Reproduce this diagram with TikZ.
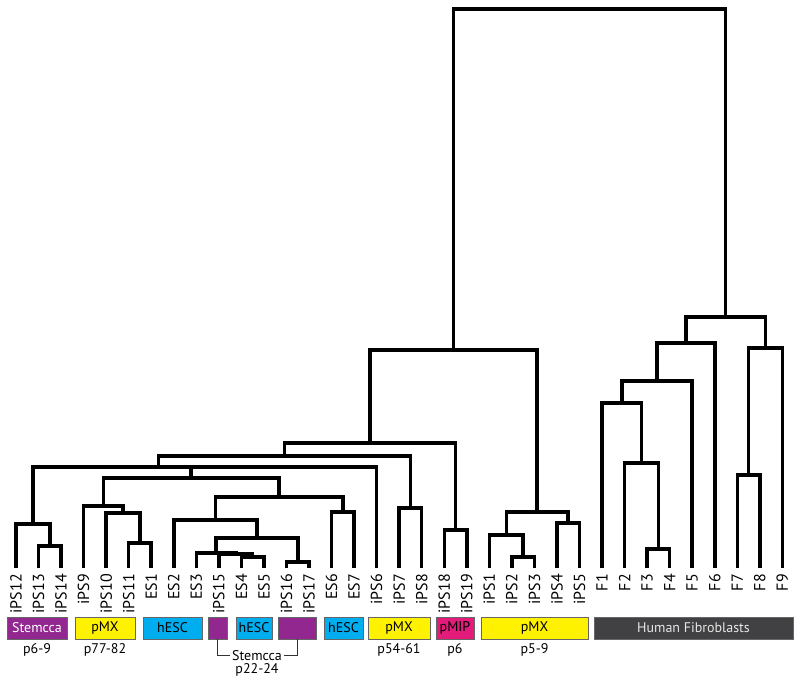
\documentclass[tikz,border=0pt]{standalone}
\usepackage{fontspec}
\setmainfont{PT Sans}
\usetikzlibrary{calc}
\definecolor{stemcca}{HTML}{92278F}
\definecolor{pmx}{HTML}{FFF200}
\definecolor{hesc}{HTML}{00AEEF}
\definecolor{pmip}{HTML}{E31B7A}
\definecolor{fibro}{HTML}{414042}
\definecolor{fibrotext}{HTML}{E6E6E6}

% join two clades at a given height
\newcommand{\joinclades}[4]{%
  \path let \p1=(#2), \p2=(#3), \p3=(0,#4) in ({(\x1+\x2)/2},\y3) coordinate (#1);
  \draw[branch] (#2) |- (#1) -| (#3);}

\begin{document}
\begin{tikzpicture}[x=1pt,y=-1pt,
    branch/.style={line width=3.5pt,black},
    leaf/.style={rotate=90,anchor=east,inner xsep=6pt,inner ysep=0pt,
                 font=\fontsize{16}{18}\selectfont},
    tag/.style={draw=black!60,line width=0.6pt,minimum height=22pt,inner sep=0pt,
                font=\fontsize{14}{16}\selectfont},
    pnote/.style={anchor=base,font=\fontsize{14}{16}\selectfont},
    bracket/.style={line width=0.8pt,black!80}]
  \useasboundingbox (0,0) rectangle (800,684);

  % leaves
  \foreach \lab [count=\i from 0] in {iPS12,iPS13,iPS14,iPS9,iPS10,iPS11,ES1,ES2,ES3,
      iPS15,ES4,ES5,iPS16,iPS17,ES6,ES7,iPS6,iPS7,iPS8,iPS18,iPS19,iPS1,iPS2,iPS3,
      iPS4,iPS5,F1,F2,F3,F4,F5,F6,F7,F8,F9}
    \node[leaf] (\lab) at ({16+22.54*\i},568) {\lab};

  % left clades
  \joinclades{c1314}{iPS13.east}{iPS14.east}{546}
  \joinclades{c12}{iPS12.east}{c1314}{524}
  \joinclades{c11}{iPS11.east}{ES1.east}{543}
  \joinclades{c10}{iPS10.east}{c11}{513}
  \joinclades{c9}{iPS9.east}{c10}{506}
  \joinclades{c45}{ES4.east}{ES5.east}{557}
  \joinclades{c15}{iPS15.east}{c45}{554}
  \joinclades{c3}{ES3.east}{c15}{553}
  \joinclades{c1617}{iPS16.east}{iPS17.east}{562}
  \joinclades{c3b}{c3}{c1617}{538}
  \joinclades{c2}{ES2.east}{c3b}{520}
  \joinclades{c67}{ES6.east}{ES7.east}{512}
  \joinclades{c2b}{c2}{c67}{497}
  \joinclades{c9b}{c9}{c2b}{478}
  \joinclades{c6}{c9b}{iPS6.east}{467}
  \joinclades{c12b}{c12}{c6}{467}
  \joinclades{c78}{iPS7.east}{iPS8.east}{508}
  \joinclades{c7}{c12b}{c78}{456}
  \joinclades{c1819}{iPS18.east}{iPS19.east}{530}
  \joinclades{c18}{c7}{c1819}{443}
  \joinclades{d23}{iPS2.east}{iPS3.east}{557}
  \joinclades{d1}{iPS1.east}{d23}{535}
  \joinclades{d45}{iPS4.east}{iPS5.east}{523}
  \joinclades{d1b}{d1}{d45}{512}
  \joinclades{ipsall}{c18}{d1b}{350}

  % fibroblasts
  \joinclades{f34}{F3.east}{F4.east}{549}
  \joinclades{f2}{F2.east}{f34}{463}
  \joinclades{f1}{F1.east}{f2}{403}
  \joinclades{f5}{f1}{F5.east}{381}
  \joinclades{f6}{f5}{F6.east}{343}
  \joinclades{f78}{F7.east}{F8.east}{475}
  \joinclades{f9}{f78}{F9.east}{348}
  \joinclades{fall}{f6}{f9}{317}
  \joinclades{root}{ipsall}{fall}{9}

  % colour bar
  \node[tag,fill=stemcca,text=white,minimum width=60pt] (tStemA) at (37,628) {Stemcca};
  \node[tag,fill=pmx,minimum width=60pt] (tMxA) at (105,628) {pMX};
  \node[tag,fill=hesc,minimum width=59pt] (tEscA) at (172.5,628) {hESC};
  \node[tag,fill=stemcca,minimum width=19pt] (tStemB) at (217.5,628) {};
  \node[tag,fill=hesc,minimum width=36pt] (tEscB) at (254,628) {hESC};
  \node[tag,fill=stemcca,minimum width=38pt] (tStemC) at (297,628) {};
  \node[tag,fill=hesc,minimum width=39pt] (tEscC) at (343.5,628) {hESC};
  \node[tag,fill=pmx,minimum width=62pt] (tMxB) at (399,628) {pMX};
  \node[tag,fill=pmip,minimum width=38pt] (tMip) at (455,628) {pMIP};
  \node[tag,fill=pmx,minimum width=107pt] (tMxC) at (534.5,628) {pMX};
  \node[tag,fill=fibro,text=fibrotext,minimum width=199pt] (tFib) at (693.5,628) {Human Fibroblasts};

  % passages
  \node[pnote] (pStemA) at (37,653) {p6-9};
  \node[pnote] (pMxA) at (105,653) {p77-82};
  \node[pnote] (pMxB) at (399,653) {p54-61};
  \node[pnote] (pMip) at (455,653) {p6};
  \node[pnote] (pMxC) at (534.5,653) {p5-9};
  \node[pnote,inner xsep=2pt] (stemLab) at (257,660) {Stemcca};
  \node[pnote] (pStemB) at (257,673) {p22-24};
  \draw[bracket] (tStemB.south) |- (stemLab.west);
  \draw[bracket] (stemLab.east) -| (tStemC.south);
\end{tikzpicture}
\end{document}
